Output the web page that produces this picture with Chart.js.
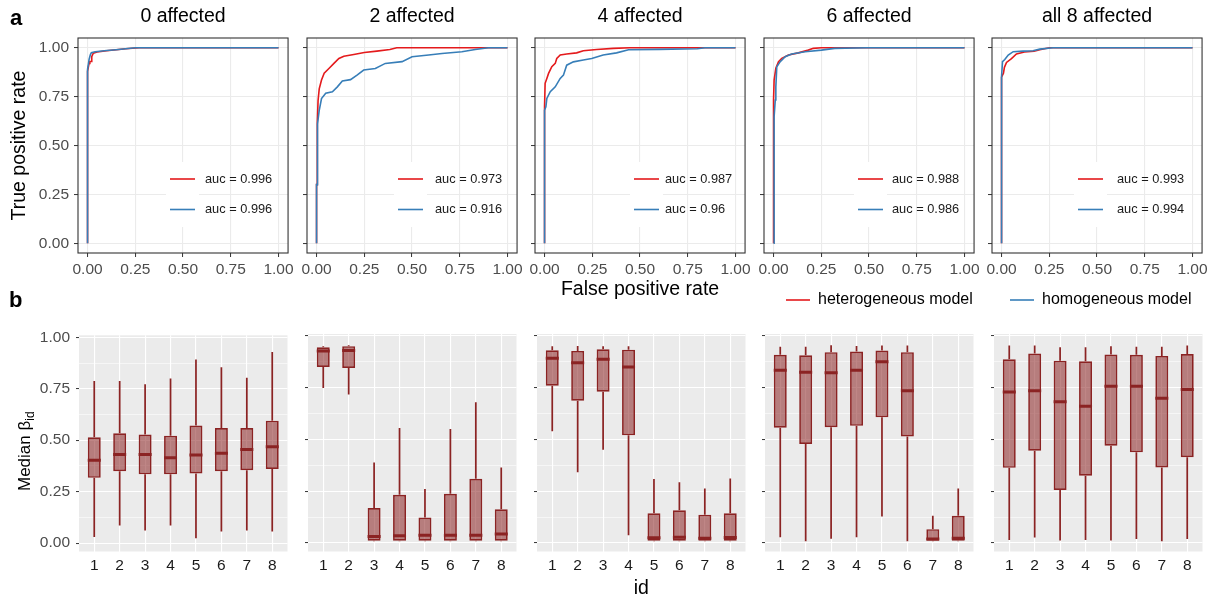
<!DOCTYPE html>
<html>
<head>
<meta charset="utf-8">
<script src="https://cdn.jsdelivr.net/npm/chart.js@4.4.0/dist/chart.umd.min.js"></script>
<style>
  html, body { margin: 0; padding: 0; background: #fff; }
  body { width: 1222px; height: 601px; position: relative; overflow: hidden; }
</style>
</head>
<body>
<script>
const FONT = "'Liberation Sans', Arial, sans-serif";
Chart.defaults.font.family = FONT;
Chart.defaults.color = '#4D4D4D';
Chart.defaults.animation = false;

// ---- data ----
const panelTitles = ['0 affected', '2 affected', '4 affected', '6 affected', 'all 8 affected'];
const seriesNames = ['heterogeneous model', 'homogeneous model'];
const seriesColors = ['#E41A1C', '#377EB8'];
const aucHet = [0.996, 0.973, 0.987, 0.988, 0.993];
const aucHom = [0.996, 0.916, 0.96, 0.986, 0.994];
const rateTicks = [0, 0.25, 0.5, 0.75, 1];
const betaTicks = [0, 0.125, 0.25, 0.375, 0.5, 0.625, 0.75, 0.875, 1];
const ids = [1, 2, 3, 4, 5, 6, 7, 8];

// ROC curves as [false positive rate, true positive rate]
const het0 = [[0,0],[0,0.88],[0.004,0.9],[0.008,0.92],[0.012,0.93],[0.02,0.93],[0.022,0.955],[0.03,0.972],[0.05,0.978],[0.1,0.985],[0.15,0.99],[0.2,0.995],[0.27,1],[1,1]];
const hom0 = [[0,0],[0,0.89],[0.005,0.92],[0.008,0.94],[0.015,0.965],[0.02,0.975],[0.04,0.98],[0.1,0.986],[0.15,0.99],[0.2,0.995],[0.25,1],[1,1]];
const het2 = [[0,0],[0,0.3],[0.004,0.3],[0.004,0.62],[0.008,0.73],[0.014,0.79],[0.026,0.835],[0.04,0.87],[0.066,0.895],[0.091,0.92],[0.117,0.945],[0.143,0.957],[0.195,0.966],[0.25,0.976],[0.316,0.983],[0.384,0.991],[0.42,1],[1,1]];
const hom2 = [[0,0],[0,0.3],[0.005,0.3],[0.005,0.61],[0.014,0.68],[0.026,0.74],[0.048,0.767],[0.083,0.775],[0.109,0.8],[0.135,0.83],[0.178,0.837],[0.212,0.86],[0.247,0.886],[0.308,0.894],[0.36,0.92],[0.448,0.929],[0.5,0.954],[0.587,0.963],[0.657,0.971],[0.761,0.98],[0.831,0.991],[0.9,1],[1,1]];
const het4 = [[0,0],[0,0.7],[0.003,0.818],[0.012,0.843],[0.021,0.869],[0.038,0.903],[0.056,0.92],[0.064,0.945],[0.082,0.963],[0.116,0.968],[0.168,0.974],[0.203,0.985],[0.273,0.991],[0.36,0.997],[0.446,1],[1,1]];
const hom4 = [[0,0],[0,0.681],[0.007,0.698],[0.012,0.741],[0.03,0.775],[0.056,0.8],[0.082,0.843],[0.099,0.86],[0.116,0.911],[0.151,0.928],[0.203,0.937],[0.247,0.945],[0.307,0.963],[0.377,0.974],[0.44,0.99],[0.6,0.992],[0.8,0.995],[0.84,1],[1,1]];
const het6 = [[0,0],[0,0.733],[0.003,0.835],[0.012,0.895],[0.026,0.929],[0.043,0.946],[0.078,0.963],[0.13,0.974],[0.182,0.988],[0.208,0.997],[0.25,1],[1,1]];
const hom6 = [[0,0],[0.003,0],[0.003,0.648],[0.009,0.733],[0.012,0.8],[0.017,0.903],[0.035,0.929],[0.061,0.954],[0.095,0.968],[0.165,0.98],[0.251,0.988],[0.32,0.997],[0.49,1],[1,1]];
const het8 = [[0,0],[0,0.85],[0.01,0.87],[0.015,0.9],[0.026,0.925],[0.052,0.945],[0.078,0.968],[0.12,0.978],[0.17,0.982],[0.2,0.99],[0.25,1],[1,1]];
const hom8 = [[0,0],[0,0.852],[0.005,0.929],[0.017,0.94],[0.035,0.963],[0.061,0.98],[0.113,0.983],[0.165,0.985],[0.2,0.993],[0.27,1],[1,1]];
const hetRoc = [het0, het2, het4, het6, het8];
const homRoc = [hom0, hom2, hom4, hom6, hom8];

// box plot stats of median beta, one row per panel, one value per id
const lowerWhisker = [
  [0.029, 0.085, 0.061, 0.085, 0.024, 0.056, 0.061, 0.056],
  [0.749, 0.717, 0.009, 0.009, 0.009, 0.009, 0.009, 0.009],
  [0.540, 0.342, 0.451, 0.037, 0.009, 0.009, 0.009, 0.009],
  [0.028, 0.009, 0.020, 0.028, 0.128, 0.009, 0.009, 0.009],
  [0.014, 0.027, 0.012, 0.014, 0.012, 0.019, 0.009, 0.019]
];
const lowerHinge = [
  [0.317, 0.349, 0.334, 0.334, 0.338, 0.349, 0.354, 0.36],
  [0.850, 0.846, 0.011, 0.011, 0.011, 0.011, 0.011, 0.011],
  [0.760, 0.687, 0.731, 0.520, 0.011, 0.011, 0.011, 0.011],
  [0.557, 0.478, 0.559, 0.566, 0.607, 0.515, 0.011, 0.011],
  [0.363, 0.446, 0.256, 0.325, 0.470, 0.438, 0.365, 0.414]
];
const medianBeta = [
  [0.402, 0.431, 0.431, 0.415, 0.428, 0.437, 0.455, 0.468],
  [0.927, 0.930, 0.032, 0.035, 0.037, 0.037, 0.037, 0.043],
  [0.892, 0.871, 0.888, 0.850, 0.025, 0.028, 0.023, 0.027],
  [0.834, 0.825, 0.823, 0.834, 0.876, 0.736, 0.019, 0.023],
  [0.729, 0.736, 0.682, 0.661, 0.757, 0.757, 0.699, 0.741]
];
const upperHinge = [
  [0.514, 0.534, 0.527, 0.522, 0.571, 0.559, 0.559, 0.595],
  [0.946, 0.951, 0.169, 0.233, 0.123, 0.238, 0.310, 0.163],
  [0.931, 0.928, 0.936, 0.934, 0.144, 0.158, 0.137, 0.144],
  [0.909, 0.907, 0.922, 0.925, 0.930, 0.922, 0.067, 0.132],
  [0.888, 0.915, 0.881, 0.878, 0.911, 0.909, 0.904, 0.913]
];
const upperWhisker = [
  [0.788, 0.788, 0.772, 0.8, 0.892, 0.855, 0.804, 0.928],
  [0.951, 0.955, 0.389, 0.556, 0.261, 0.551, 0.680, 0.365],
  [0.951, 0.952, 0.951, 0.951, 0.309, 0.293, 0.263, 0.312],
  [0.948, 0.948, 0.955, 0.952, 0.954, 0.954, 0.132, 0.263],
  [0.954, 0.954, 0.946, 0.946, 0.951, 0.948, 0.948, 0.954]
];

// ---- layout ----
const topLeft = [78, 307, 535, 764, 992];
const topWidth = 211;
const botLeft = [79, 308, 537, 765, 994];
const botWidth = 210;
const keyLine = [92, 91, 99, 94, 86];
const keyText = [127, 128, 130, 128, 125];
const boxColor = '#8B2323';
const boxFill = 'rgba(139,35,35,0.55)';

function makeCanvas(left, top, w, h) {
  const c = document.createElement('canvas');
  c.width = w;
  c.height = h;
  c.style.cssText = 'position:absolute;left:' + left + 'px;top:' + top + 'px;width:' + w + 'px;height:' + h + 'px;';
  document.body.appendChild(c);
  return c;
}

const isMajor = v => Math.abs(v * 4 - Math.round(v * 4)) < 1e-9;

// panel background, auc key, frame and free text
const decor = {
  id: 'decor',
  beforeDraw(chart, args, o) {
    if (!o.fill) return;
    const a = chart.chartArea, ctx = chart.ctx;
    ctx.save();
    ctx.fillStyle = o.fill;
    ctx.fillRect(a.left, a.top, a.width, a.height);
    ctx.restore();
  },
  beforeDatasetsDraw(chart, args, o) {
    if (!o.key) return;
    const a = chart.chartArea, ctx = chart.ctx, k = o.key;
    const x0 = a.left + k.line;
    ctx.save();
    ctx.fillStyle = '#fff';
    ctx.fillRect(x0 - 4, a.top + 124, 33, 65);
    k.rows.forEach((r, j) => {
      const y = a.top + 141 + j * 30.5;
      ctx.strokeStyle = r.color;
      ctx.lineWidth = 1.6;
      ctx.beginPath();
      ctx.moveTo(x0, y);
      ctx.lineTo(x0 + 25, y);
      ctx.stroke();
      ctx.fillStyle = '#1A1A1A';
      ctx.font = '12.8px ' + FONT;
      ctx.textBaseline = 'middle';
      ctx.textAlign = 'left';
      ctx.fillText(r.text, a.left + k.text, y);
    });
    ctx.restore();
  },
  afterDatasetsDraw(chart, args, o) {
    if (!o.frame) return;
    const a = chart.chartArea, ctx = chart.ctx;
    ctx.save();
    ctx.strokeStyle = '#333333';
    ctx.lineWidth = 1.1;
    ctx.strokeRect(a.left, a.top, a.width, a.height);
    ctx.restore();
  },
  afterDraw(chart, args, o) {
    const ctx = chart.ctx;
    ctx.save();
    (o.lines || []).forEach(l => {
      ctx.strokeStyle = l.color;
      ctx.lineWidth = 1.6;
      ctx.beginPath();
      ctx.moveTo(l.x1, l.y);
      ctx.lineTo(l.x2, l.y);
      ctx.stroke();
    });
    (o.labels || []).forEach(t => {
      ctx.fillStyle = '#000';
      ctx.font = (t.bold ? 'bold ' : '') + t.size + 'px ' + FONT;
      ctx.textBaseline = t.base;
      ctx.textAlign = 'left';
      ctx.fillText(t.text, t.x, t.y);
    });
    if (o.beta) {
      ctx.translate(o.beta.x, o.beta.y);
      ctx.rotate(-Math.PI / 2);
      ctx.fillStyle = '#000';
      ctx.textBaseline = 'alphabetic';
      ctx.textAlign = 'left';
      ctx.font = '17px ' + FONT;
      ctx.fillText('Median ', 0, 0);
      let w = ctx.measureText('Median ').width;
      ctx.fillText('β', w, 0);
      w += ctx.measureText('β').width;
      ctx.font = '12px ' + FONT;
      ctx.fillText('id', w, 4);
    }
    ctx.restore();
  }
};
Chart.register(decor);

// ---- top row: ROC curves ----
function rocChart(i) {
  const yw = i === 0 ? 78 : 10;
  const cl = topLeft[i] - yw;
  const canvas = makeCanvas(cl, 0, yw + topWidth + 8, 320);
  const labels = [], lines = [];
  if (i === 0) labels.push({ text: 'a', x: 10, y: 25, size: 22, bold: true, base: 'alphabetic' },
                           { text: 'b', x: 9, y: 306.5, size: 22, bold: true, base: 'alphabetic' });
  if (i === 3) {
    lines.push({ x1: 786 - cl, x2: 810 - cl, y: 300, color: seriesColors[0] });
    labels.push({ text: seriesNames[0], x: 818 - cl, y: 300, size: 16, base: 'middle' });
  }
  if (i === 4) {
    lines.push({ x1: 1010 - cl, x2: 1034 - cl, y: 300, color: seriesColors[1] });
    labels.push({ text: seriesNames[1], x: 1042 - cl, y: 300, size: 16, base: 'middle' });
  }
  return new Chart(canvas, {
    type: 'line',
    data: {
      datasets: [
        { label: seriesNames[1], data: homRoc[i].map(p => ({ x: p[0], y: p[1] })),
          borderColor: seriesColors[1], borderWidth: 1.6, pointRadius: 0, tension: 0, fill: false },
        { label: seriesNames[0], data: hetRoc[i].map(p => ({ x: p[0], y: p[1] })),
          borderColor: seriesColors[0], borderWidth: 1.6, pointRadius: 0, tension: 0, fill: false }
      ]
    },
    options: {
      responsive: false,
      animation: false,
      events: [],
      layout: { padding: { left: 0, right: 8, top: 0, bottom: 0 } },
      plugins: {
        legend: { display: false },
        tooltip: { enabled: false },
        title: { display: true, text: panelTitles[i], color: '#000', fullSize: false,
                 font: { size: 19.5, weight: 'normal' }, padding: { top: 4.8, bottom: 9.8 } },
        decor: {
          frame: true,
          key: { line: keyLine[i], text: keyText[i], rows: [
            { color: seriesColors[0], text: 'auc = ' + aucHet[i] },
            { color: seriesColors[1], text: 'auc = ' + aucHom[i] }
          ] },
          labels: labels,
          lines: lines
        }
      },
      scales: {
        x: {
          type: 'linear', min: -0.05, max: 1.05,
          afterBuildTicks: s => { s.ticks = rateTicks.map(v => ({ value: v })); },
          afterFit: s => { s.height = 67; },
          ticks: { color: '#4D4D4D', font: { size: 15.5 }, padding: 3, maxRotation: 0, autoSkip: false,
                   callback: v => v.toFixed(2) },
          grid: { color: '#EBEBEB', lineWidth: 1.1, tickColor: '#333333', tickLength: 4, tickWidth: 1 },
          border: { display: false },
          title: { display: i === 2, text: 'False positive rate', color: '#000',
                   font: { size: 19.5 }, padding: { top: 0, bottom: 18.8 } }
        },
        y: {
          type: 'linear', min: -0.05, max: 1.05,
          afterBuildTicks: s => { s.ticks = rateTicks.map(v => ({ value: v })); },
          afterFit: s => { s.width = yw; },
          ticks: { display: i === 0, color: '#4D4D4D', font: { size: 15.5 }, padding: 5, autoSkip: false,
                   callback: v => v.toFixed(2) },
          grid: { color: '#EBEBEB', lineWidth: 1.1, tickColor: '#333333', tickLength: 4, tickWidth: 1 },
          border: { display: false },
          title: { display: i === 0, text: 'True positive rate', color: '#000',
                   font: { size: 19.5 }, padding: { top: 8.3, bottom: 0 } }
        }
      }
    }
  });
}

// ---- bottom row: box plots ----
function boxChart(i) {
  const yw = i === 0 ? 79 : 10;
  const canvas = makeCanvas(botLeft[i] - yw, 320, yw + botWidth + 8, 281);
  return new Chart(canvas, {
    type: 'bar',
    data: {
      datasets: [
        { type: 'line', label: 'median', data: ids.map((id, k) => ({ x: id, y: medianBeta[i][k] })),
          showLine: false, pointStyle: 'line', pointRadius: 6.5, pointBorderWidth: 3,
          pointBorderColor: boxColor, pointBackgroundColor: boxColor },
        { label: 'box', data: ids.map((id, k) => ({ x: id, y: [lowerHinge[i][k], upperHinge[i][k]] })),
          backgroundColor: boxFill, borderColor: boxColor, borderWidth: 1.7, borderSkipped: false,
          grouped: false, barPercentage: 0.51, categoryPercentage: 1 },
        { label: 'upper whisker', data: ids.map((id, k) => ({ x: id, y: [upperHinge[i][k], upperWhisker[i][k]] })),
          backgroundColor: boxColor, borderWidth: 0, grouped: false, barPercentage: 0.068, categoryPercentage: 1 },
        { label: 'lower whisker', data: ids.map((id, k) => ({ x: id, y: [lowerWhisker[i][k], lowerHinge[i][k]] })),
          backgroundColor: boxColor, borderWidth: 0, grouped: false, barPercentage: 0.068, categoryPercentage: 1 }
      ]
    },
    options: {
      responsive: false,
      animation: false,
      events: [],
      layout: { padding: { left: 0, right: 8, top: 14, bottom: 0 } },
      plugins: {
        legend: { display: false },
        tooltip: { enabled: false },
        decor: {
          fill: '#EBEBEB',
          beta: i === 0 ? { x: 29.5, y: 171 } : null
        }
      },
      scales: {
        x: {
          type: 'linear', min: 0.4, max: 8.6, offset: false,
          afterBuildTicks: s => { s.ticks = ids.map(v => ({ value: v })); },
          afterFit: s => { s.height = 49.5; },
          ticks: { color: '#1A1A1A', font: { size: 15.5 }, padding: 5, maxRotation: 0, autoSkip: false,
                   callback: v => String(v) },
          grid: { color: '#ffffff', lineWidth: 1.1, drawTicks: false, offset: false },
          border: { display: false },
          title: { display: i === 2, text: 'id', color: '#000',
                   font: { size: 19.5 }, padding: { top: 0, bottom: 0.8 } }
        },
        y: {
          type: 'linear', min: -0.041, max: 1.0097,
          afterBuildTicks: s => { s.ticks = betaTicks.map(v => ({ value: v })); },
          afterFit: s => { s.width = yw; },
          ticks: { display: i === 0, color: '#4D4D4D', font: { size: 15.5 }, padding: 6, autoSkip: false,
                   callback: v => isMajor(v) ? v.toFixed(2) : '' },
          grid: {
            color: '#ffffff',
            lineWidth: c => isMajor(c.tick.value) ? 1.1 : 0.55,
            tickColor: c => isMajor(c.tick.value) ? '#333333' : 'rgba(0,0,0,0)',
            tickLength: 3, tickWidth: 1
          },
          border: { display: false }
        }
      }
    }
  });
}

for (let i = 0; i < 5; i++) {
  rocChart(i);
  boxChart(i);
}
</script>
</body>
</html>
